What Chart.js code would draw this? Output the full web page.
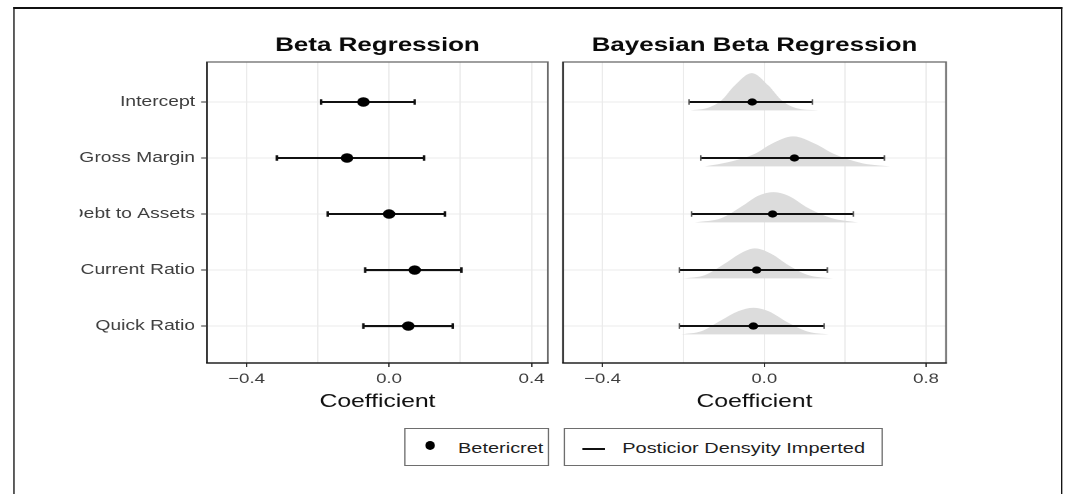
<!DOCTYPE html>
<html><head><meta charset="utf-8">
<script src="https://cdn.jsdelivr.net/npm/chart.js@4.4.1/dist/chart.umd.min.js"></script>
<style>
html,body{margin:0;padding:0;background:#fff;overflow:hidden;width:1065px;height:494px}
#wrap{position:absolute;left:0;top:0;width:801px;height:494px;transform:scaleX(1.3296);transform-origin:0 0;font-family:'Liberation Sans',Arial,sans-serif}
#frame{position:absolute;left:9.55px;top:6.7px;width:789px;height:600px;box-sizing:border-box;border-top:2px solid #111;border-left:1.7px solid #111;border-right:1.7px solid #111}
#c1{position:absolute;left:60px;top:0}
#c2{position:absolute;left:418px;top:0}
.lg{position:absolute;top:428px;height:37.5px;box-sizing:border-box;border:1px solid #6e6e6e;background:#fff;font-size:15px;color:#1e1e1e}
.lg span{position:absolute;top:0.5px;line-height:35.5px;white-space:nowrap}
#dot{position:absolute;left:15px;top:12px;width:7.5px;height:8.5px;border-radius:50%;background:#000}
#bar{position:absolute;left:13px;top:18.5px;width:17px;height:2px;background:#111}
</style></head>
<body>
<div id="wrap">
  <div id="frame"></div>
  <canvas id="c1" width="358" height="415" style="width:358px;height:415px"></canvas>
  <canvas id="c2" width="302" height="415" style="width:302px;height:415px"></canvas>
  <div class="lg" style="left:303.9px;width:109px"><div id="dot"></div><span style="left:39.6px">Betericret</span></div>
  <div class="lg" style="left:423.7px;width:240px"><div id="bar"></div><span style="left:43.3px">Posticior Densyity Imperted</span></div>
</div>
<script>
// ---- data ----
const categories = ['Intercept', 'Gross Margin', 'Debt to Assets', 'Current Ratio', 'Quick Ratio'];
const betaEst  = [-0.072, -0.118, 0.000, 0.072, 0.054];
const betaLow  = [-0.191, -0.315, -0.172, -0.067, -0.072];
const betaHigh = [0.072, 0.098, 0.157, 0.203, 0.179];
const bayesEst  = [-0.030, 0.149, 0.041, -0.019, -0.027];
const bayesLow  = [-0.186, -0.157, -0.180, -0.210, -0.210];
const bayesHigh = [0.238, 0.594, 0.441, 0.312, 0.296];
// posterior density outlines (x positions and heights, in row units)
const densX = [
  [-0.183, -0.139, -0.106, -0.073, -0.031, 0.020, 0.086, 0.152, 0.267],
  [-0.147, -0.089, -0.023, 0.037, 0.144, 0.251, 0.350, 0.482, 0.622],
  [-0.172, -0.106, -0.056, -0.015, 0.045, 0.119, 0.218, 0.333, 0.465],
  [-0.200, -0.147, -0.097, -0.056, -0.023, 0.037, 0.119, 0.218, 0.342],
  [-0.206, -0.155, -0.106, -0.064, -0.027, 0.020, 0.119, 0.218, 0.320]
];
const densH = [
  [0, 0.048, 0.179, 0.446, 0.666, 0.446, 0.179, 0.048, 0],
  [0, 0.077, 0.227, 0.405, 0.536, 0.405, 0.214, 0.059, 0],
  [0, 0.077, 0.286, 0.477, 0.541, 0.477, 0.255, 0.077, 0],
  [0, 0.059, 0.268, 0.459, 0.536, 0.434, 0.238, 0.059, 0],
  [0, 0.059, 0.255, 0.416, 0.477, 0.416, 0.209, 0.048, 0]
];
const betaTickLabels = [-0.4, 0, 0.4];
const betaGridValues = [-0.4, -0.2, 0, 0.2, 0.4];
const bayesTickLabels = [-0.4, 0, 0.8];
const bayesGridValues = [-0.4, -0.2, 0, 0.4, 0.8];

// ---- axis with a different step on each side of zero (as drawn in the reference) ----
class PiecewiseScale extends Chart.LinearScale {
  static id = 'piecewise';
  static defaults = Chart.LinearScale.defaults;
  _f(v) { return v <= 0 ? v : v / 2; }
  _fi(u) { return u <= 0 ? u : u * 2; }
  getPixelForValue(value) {
    const a = this._f(this.min), b = this._f(this.max);
    return this.getPixelForDecimal((this._f(value) - a) / (b - a));
  }
  getValueForPixel(pixel) {
    const a = this._f(this.min), b = this._f(this.max);
    return this._fi(a + this.getDecimalForPixel(pixel) * (b - a));
  }
}
Chart.register(PiecewiseScale);

Chart.defaults.font.family = "'Liberation Sans', Arial, sans-serif";
Chart.defaults.animation = false;

const fmt = v => (v < 0 ? '\u2212' : '') + Math.abs(v).toFixed(1);
const DENS_BASE = 0.15;

const panelBorder = {
  id: 'panelBorder',
  afterDatasetsDraw(chart) {
    const {ctx, chartArea: a} = chart;
    ctx.save();
    ctx.lineWidth = 1.3;
    ctx.strokeStyle = '#6b6b6b';
    ctx.strokeRect(a.left, a.top, a.right - a.left, a.bottom - a.top);
    ctx.strokeStyle = '#333';
    ctx.beginPath(); ctx.moveTo(a.left, a.top); ctx.lineTo(a.left, a.bottom); ctx.stroke();
    ctx.strokeStyle = '#111';
    ctx.beginPath(); ctx.moveTo(a.left - 0.6, a.bottom); ctx.lineTo(a.right + 0.6, a.bottom); ctx.stroke();
    ctx.restore();
  }
};

function yScale(showLabels, width) {
  return {
    type: 'linear', reverse: true, min: -0.714, max: 4.66,
    afterBuildTicks: s => { s.ticks = categories.map((c, i) => ({value: i})); },
    ticks: {display: showLabels, callback: v => categories[v], font: {size: 14.5}, color: '#3d3d3d', padding: 4.5, autoSkip: false},
    grid: {color: '#ebebeb', lineWidth: 1, drawTicks: showLabels, tickLength: 4.5, tickColor: '#333'},
    border: {display: false},
    afterFit: s => { s.width = width; }
  };
}
function xScale(type, min, max, gridVals, labelVals) {
  return {
    type, min, max, bounds: 'data',
    afterBuildTicks: s => { s.ticks = gridVals.map(v => ({value: v})); },
    ticks: {callback: v => labelVals.includes(v) ? fmt(v) : '', font: {size: 14}, color: '#3d3d3d', padding: 3.6, maxRotation: 0, autoSkip: false},
    grid: {color: '#ebebeb', lineWidth: 1, tickLength: 4, tickColor: c => (c.tick && labelVals.includes(c.tick.value)) ? '#333' : 'rgba(0,0,0,0)'},
    border: {display: false},
    title: {display: true, text: 'Coefficient', font: {size: 18.5}, color: '#111', padding: {top: 0, bottom: 2.2}},
    afterFit: s => { s.height = 52; }
  };
}
function titleOpt(text) {
  return {display: true, text, fullSize: false, font: {size: 19.5, weight: 'bold'}, color: '#0a0a0a', padding: {top: 33.8, bottom: 4.8}};
}
function barSets(lo, hi, capColor, capW, lw) {
  return categories.map((c, i) => ({
    showLine: true,
    data: [{x: lo[i], y: i}, {x: hi[i], y: i}],
    borderColor: '#111', borderWidth: lw,
    pointStyle: 'line', rotation: 90, pointRadius: 2.8,
    pointBorderColor: capColor, pointBorderWidth: capW, pointBackgroundColor: capColor,
    order: 2
  }));
}
function pointSet(est, r) {
  return {
    data: categories.map((c, i) => ({x: est[i], y: i})),
    pointRadius: r, pointBackgroundColor: '#000', pointBorderColor: '#000', pointBorderWidth: 0,
    order: 1
  };
}

new Chart(document.getElementById('c1'), {
  type: 'scatter',
  data: {datasets: [...barSets(betaLow, betaHigh, '#111', 1.9, 2.1), pointSet(betaEst, 4.7)]},
  options: {
    responsive: false, devicePixelRatio: 2, events: [],
    layout: {padding: {left: 0, right: 5.1, top: 0, bottom: 0}},
    plugins: {legend: {display: false}, tooltip: {enabled: false}, title: titleOpt('Beta Regression')},
    scales: {x: xScale('linear', -0.511, 0.446, betaGridValues, betaTickLabels), y: yScale(true, 95.7)}
  },
  plugins: [panelBorder]
});

const densSets = categories.map((c, i) => ({
  type: 'line',
  data: densX[i].map((x, k) => ({x, y: i + DENS_BASE - densH[i][k]})),
  fill: {value: i + DENS_BASE},
  backgroundColor: '#dcdcdc', borderColor: 'rgba(0,0,0,0)', borderWidth: 0.01,
  pointRadius: 0, cubicInterpolationMode: 'monotone',
  order: 3
}));

new Chart(document.getElementById('c2'), {
  type: 'scatter',
  data: {datasets: [...densSets, ...barSets(bayesLow, bayesHigh, '#555', 1.2, 2.0), pointSet(bayesEst, 3.6)]},
  options: {
    responsive: false, devicePixelRatio: 2, events: [],
    layout: {padding: {left: 0, right: 8.5, top: 0, bottom: 0}},
    plugins: {legend: {display: false}, tooltip: {enabled: false}, title: titleOpt('Bayesian Beta Regression')},
    scales: {x: xScale('piecewise', -0.498, 0.899, bayesGridValues, bayesTickLabels), y: yScale(false, 5.4)}
  },
  plugins: [panelBorder]
});
</script>
</body></html>
